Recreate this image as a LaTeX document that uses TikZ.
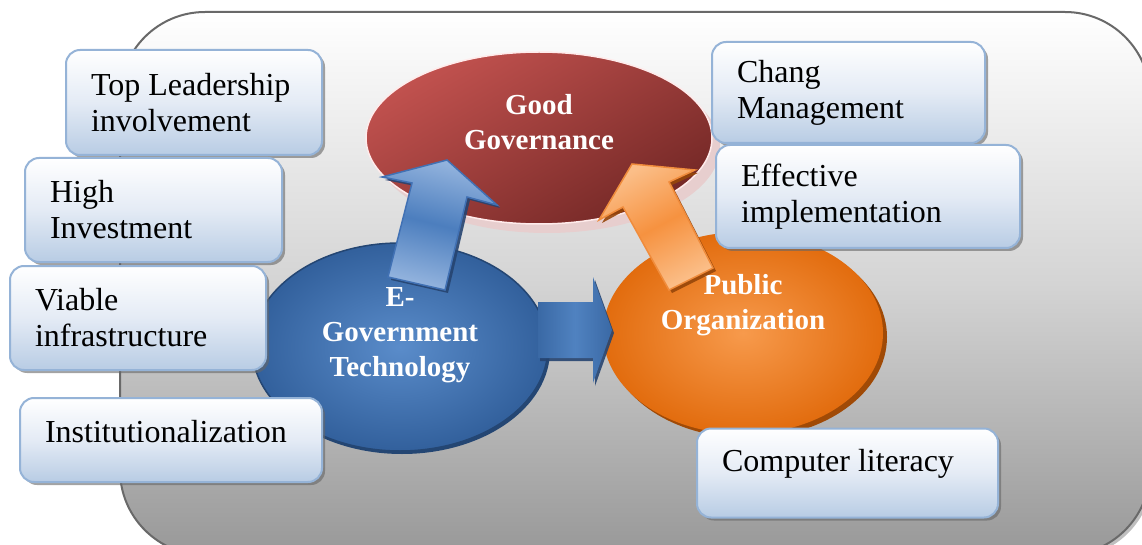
\documentclass[tikz,border=0pt]{standalone}
\usepackage{fontspec}
\setmainfont{Liberation Serif}
\usetikzlibrary{shapes.geometric,shadows}
\definecolor{bgline}{RGB}{105,105,105}
\definecolor{bgbot}{RGB}{152,152,152}
\definecolor{bgmid}{RGB}{212,212,212}
\definecolor{boxline}{RGB}{149,179,215}
\definecolor{boxbot}{RGB}{184,204,228}
\definecolor{boxmid}{RGB}{228,235,245}
\definecolor{redL}{RGB}{194,82,79}
\definecolor{redD}{RGB}{116,40,38}
\definecolor{glow}{RGB}{231,206,206}
\definecolor{blueIn}{RGB}{90,140,202}
\definecolor{blueOut}{RGB}{50,96,156}
\definecolor{blueRim}{RGB}{36,70,115}
\definecolor{orIn}{RGB}{247,154,76}
\definecolor{orOut}{RGB}{226,108,14}
\definecolor{orShadow}{RGB}{160,74,6}
\definecolor{arrBlueL}{RGB}{148,180,222}
\definecolor{arrBlueM}{RGB}{76,126,190}
\definecolor{arrBlueLine}{RGB}{65,113,180}
\definecolor{arrBlueSh}{RGB}{38,68,112}
\definecolor{arrOrL}{RGB}{251,190,136}
\definecolor{arrOrM}{RGB}{246,146,64}
\definecolor{arrOrLine}{RGB}{240,140,60}
\definecolor{arrOrSh}{RGB}{150,70,10}
\definecolor{raEdge}{RGB}{58,105,165}
\definecolor{raMid}{RGB}{80,130,192}
\newcommand{\regfont}{\fontsize{32}{36}\selectfont}
\newcommand{\bldfont}{\fontsize{29}{35}\selectfont\bfseries}
\tikzset{
  infobox/.style={draw=boxline, line width=2pt, rounded corners=14pt,
    top color=white, bottom color=boxbot, middle color=boxmid,
    drop shadow={shadow xshift=3pt, shadow yshift=-3pt, fill=black!60, opacity=0.6},
    align=flush left, inner xsep=25pt, inner ysep=0pt, font=\regfont, text=black},
  bubble/.style={ellipse, inner sep=0pt, font=\bldfont, text=white},
  uparrowblue/.style={draw=arrBlueLine, line width=1.5pt, line join=miter,
    top color=arrBlueL, bottom color=arrBlueL, middle color=arrBlueM, shading angle=-14,
    drop shadow={shadow xshift=3pt, shadow yshift=-3pt, fill=arrBlueSh, opacity=0.9}},
  uparroworange/.style={draw=arrOrLine, line width=1.5pt, line join=miter,
    top color=arrOrL, bottom color=arrOrL, middle color=arrOrM, shading angle=28,
    drop shadow={shadow xshift=3pt, shadow yshift=-3pt, fill=arrOrSh, opacity=0.9}},
  rightarrowblue/.style={left color=raEdge, right color=raEdge, middle color=raMid,
    drop shadow={shadow xshift=2pt, shadow yshift=-3pt, fill=arrBlueSh, opacity=0.9}}
}
\begin{document}
\begin{tikzpicture}[x=1pt,y=-1pt]
\useasboundingbox (0,0) rectangle (1142,545);
% background panel
\path[draw=bgline, line width=2pt, rounded corners=85pt,
  top color=white, bottom color=bgbot, middle color=bgmid,
  drop shadow={shadow xshift=3pt, shadow yshift=-3pt, fill=black!50, opacity=0.5}]
  (120,12) rectangle (1150,555);
% Good Governance
\fill[glow] (547,147) ellipse [x radius=173pt, y radius=86pt];
\node[bubble, minimum width=346pt, minimum height=172pt, draw=white!92!red, line width=1.5pt,
  top color=redL, bottom color=redD, shading angle=30] (gg) at (539,138)
  {\raisebox{13pt}[\height][\depth]{\begin{tabular}{@{}c@{}}Good\\Governance\end{tabular}}};
% E-Government Technology
\node[bubble, minimum width=296pt, minimum height=208pt, draw=blueRim, line width=1.5pt,
  inner color=blueIn, outer color=blueOut,
  drop shadow={shadow xshift=2pt, shadow yshift=-3pt, fill=blueRim, opacity=1}] (eg) at (400,347)
  {\raisebox{13pt}[\height][\depth]{\begin{tabular}{@{}c@{}}E-\\Government\\Technology\end{tabular}}};
% Public Organization
\node[bubble, minimum width=280pt, minimum height=202pt,
  inner color=orIn, outer color=orOut,
  drop shadow={shadow xshift=4pt, shadow yshift=-4pt, fill=orShadow, opacity=1}] (po) at (743,333)
  {\raisebox{28pt}[\height][\depth]{\begin{tabular}{@{}c@{}}Public\\Organization\end{tabular}}};
% block arrows
\coordinate (ra1) at (538,302); \coordinate (ra2) at (593,302); \coordinate (ra3) at (593,277);
\coordinate (ra4) at (612,330); \coordinate (ra5) at (593,383); \coordinate (ra6) at (593,358);
\coordinate (ra7) at (538,358);
\path[rightarrowblue] (ra1) -- (ra2) -- (ra3) -- (ra4) -- (ra5) -- (ra6) -- (ra7) -- cycle;
\coordinate (ub1) at (388,277); \coordinate (ub2) at (412,183); \coordinate (ub3) at (382,177);
\coordinate (ub4) at (447,160); \coordinate (ub5) at (497,205); \coordinate (ub6) at (467,197);
\coordinate (ub7) at (445,290);
\path[uparrowblue] (ub1) -- (ub2) -- (ub3) -- (ub4) -- (ub5) -- (ub6) -- (ub7) -- cycle;
\coordinate (uo1) at (669,290); \coordinate (uo2) at (623,207); \coordinate (uo3) at (599,220);
\coordinate (uo4) at (632,164); \coordinate (uo5) at (695,170); \coordinate (uo6) at (669,182);
\coordinate (uo7) at (713,268);
\path[uparroworange] (uo1) -- (uo2) -- (uo3) -- (uo4) -- (uo5) -- (uo6) -- (uo7) -- cycle;
% factor boxes
\node[infobox, minimum width=256pt, minimum height=105pt, text width=206pt] (tl) at (194,102.5)
  {Top Leadership\\involvement};
\node[infobox, minimum width=257pt, minimum height=104pt, text width=207pt] (hi) at (153.5,210)
  {High\\Investment};
\node[infobox, minimum width=256pt, minimum height=104pt, text width=206pt] (vi) at (138,318)
  {Viable\\infrastructure};
\node[infobox, minimum width=302pt, minimum height=84pt, text width=252pt] (in) at (171,440)
  {\raisebox{8pt}[\height][\depth]{Institutionalization}};
\node[infobox, minimum width=273pt, minimum height=101pt, text width=223pt] (cm) at (848.5,92.5)
  {Chang\\Management};
\node[infobox, minimum width=304pt, minimum height=103pt, text width=254pt] (ei) at (868,196.5)
  {Effective\\implementation};
\node[infobox, minimum width=301pt, minimum height=89pt, text width=251pt] (cl) at (847.5,473)
  {\raisebox{9pt}[\height][\depth]{Computer literacy}};
\end{tikzpicture}
\end{document}
